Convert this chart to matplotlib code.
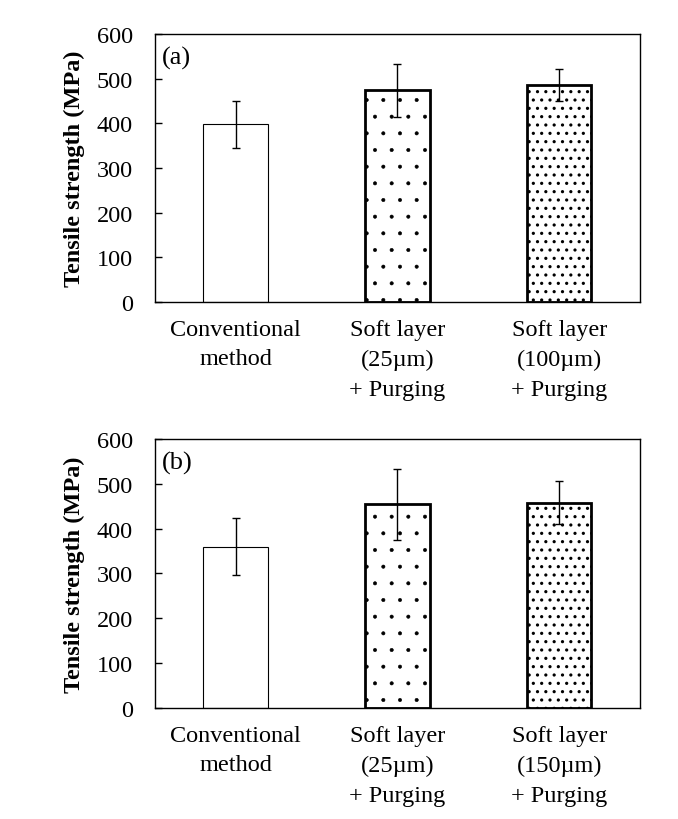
import matplotlib.pyplot as plt

plt.rcParams['font.family'] = ['Liberation Serif', 'DejaVu Serif']

# data
labels_a = ["Conventional\nmethod", "Soft layer\n(25µm)\n+ Purging", "Soft layer\n(100µm)\n+ Purging"]
labels_b = ["Conventional\nmethod", "Soft layer\n(25µm)\n+ Purging", "Soft layer\n(150µm)\n+ Purging"]
strength_a = [398, 474, 486]
err_a = [53, 59, 35]
strength_b = [360, 454, 458]
err_b = [64, 79, 48]

hatches = [None, '.', '..']
hatch_lw = [0.5, 0.4, 1.1]
edge_widths = [0.8, 2.0, 2.0]

fig = plt.figure(figsize=(6.78, 8.2), dpi=100)
ax_a = fig.add_axes([0.2286, 0.6305, 0.7153, 0.3268])
ax_b = fig.add_axes([0.2286, 0.1354, 0.7153, 0.3280])


def draw_panel(ax, labels, values, errs, tag):
    x = list(range(len(values)))
    for i in x:
        bars = ax.bar(i, values[i], width=0.4, color='white', edgecolor='black',
                      linewidth=edge_widths[i], hatch=hatches[i], zorder=2)
        for b in bars:
            if hasattr(b, 'set_hatch_linewidth'):
                b.set_hatch_linewidth(hatch_lw[i])
    ax.errorbar(x, values, yerr=errs, fmt='none', ecolor='black',
                elinewidth=1, capsize=2.8, capthick=1, zorder=3)
    ax.set_xlim(-0.5, 2.5)
    ax.set_ylim(0, 600)
    ax.set_yticks(range(0, 601, 100))
    ax.set_xticks(x)
    ax.set_xticklabels(labels, fontsize=17.5, linespacing=1.55)
    ax.tick_params(axis='x', length=0, pad=12)
    ax.tick_params(axis='y', direction='in', length=5, width=1, labelsize=17.5, pad=16)
    for s in ax.spines.values():
        s.set_linewidth(1)
    ax.set_ylabel("Tensile strength (MPa)", fontsize=17.5, fontweight='bold', labelpad=8)
    ax.text(0.015, 0.955, tag, transform=ax.transAxes, fontsize=19, va='top', ha='left')


draw_panel(ax_a, labels_a, strength_a, err_a, "(a)")
draw_panel(ax_b, labels_b, strength_b, err_b, "(b)")

fig.savefig("out.png", dpi=100)
